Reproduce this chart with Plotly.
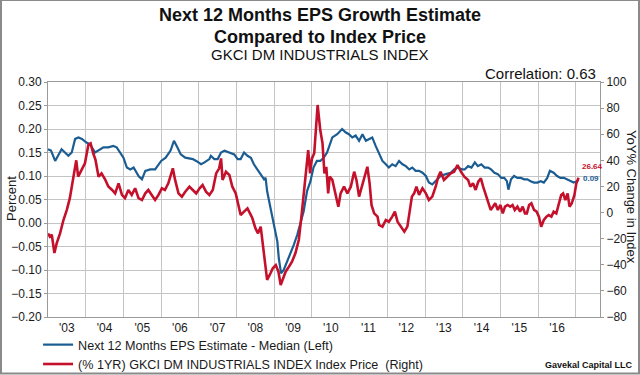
import pandas as pd
import plotly.graph_objects as go

# ---------------- data ----------------
eps_t = [2003.00, 2003.08, 2003.19, 2003.27, 2003.36, 2003.45, 2003.54, 2003.63, 2003.72, 2003.81,
         2003.90, 2004.02, 2004.11, 2004.25, 2004.34, 2004.47, 2004.60, 2004.73, 2004.82, 2004.91,
         2005.00, 2005.09, 2005.18, 2005.27, 2005.40, 2005.49, 2005.58, 2005.71, 2005.84, 2006.00,
         2006.12, 2006.25, 2006.34, 2006.43, 2006.52, 2006.64, 2006.77, 2006.84, 2006.93, 2007.06,
         2007.15, 2007.28, 2007.32, 2007.41, 2007.50, 2007.59, 2007.68, 2007.81, 2007.94, 2008.03,
         2008.11, 2008.20, 2008.29, 2008.38, 2008.46, 2008.55, 2008.64, 2008.73, 2008.77, 2008.81,
         2008.90, 2008.99, 2009.08, 2009.12, 2009.18, 2009.25, 2009.34, 2009.43, 2009.52, 2009.61,
         2009.69, 2009.78, 2009.87, 2009.96, 2010.04, 2010.13, 2010.22, 2010.31, 2010.40, 2010.47,
         2010.54, 2010.67, 2010.80, 2010.89, 2010.98, 2011.07, 2011.16, 2011.25, 2011.34, 2011.43,
         2011.51, 2011.60, 2011.69, 2011.78, 2011.87, 2011.96, 2012.04, 2012.13, 2012.22, 2012.31,
         2012.40, 2012.49, 2012.58, 2012.66, 2012.75, 2012.84, 2012.93, 2013.02, 2013.10, 2013.19,
         2013.28, 2013.41, 2013.55, 2013.68, 2013.77, 2013.86, 2013.99, 2014.05, 2014.14, 2014.23,
         2014.32, 2014.40, 2014.49, 2014.58, 2014.67, 2014.75, 2014.84, 2014.93, 2015.02, 2015.10,
         2015.17, 2015.21, 2015.28, 2015.36, 2015.45, 2015.54, 2015.63, 2015.71, 2015.80, 2015.89,
         2015.98, 2016.07, 2016.15, 2016.24, 2016.31, 2016.41, 2016.50, 2016.59, 2016.68, 2016.76,
         2016.85, 2016.94, 2017.03, 2017.07]
eps_v = [0.157, 0.154, 0.132, 0.143, 0.157, 0.150, 0.143, 0.150, 0.179, 0.182,
         0.179, 0.171, 0.168, 0.150, 0.154, 0.161, 0.161, 0.164, 0.161, 0.150,
         0.139, 0.118, 0.114, 0.118, 0.100, 0.093, 0.111, 0.114, 0.114, 0.132,
         0.139, 0.154, 0.175, 0.161, 0.146, 0.139, 0.136, 0.136, 0.132, 0.125,
         0.129, 0.136, 0.143, 0.136, 0.136, 0.150, 0.154, 0.150, 0.146, 0.136,
         0.136, 0.150, 0.143, 0.139, 0.125, 0.114, 0.104, 0.093, 0.096, 0.068,
         0.032, -0.004, -0.039, -0.075, -0.107, -0.100, -0.082, -0.068, -0.046, -0.025,
         -0.004, 0.025, 0.068, 0.089, 0.118, 0.132, 0.132, 0.139, 0.150, 0.164,
         0.182, 0.189, 0.200, 0.193, 0.189, 0.182, 0.186, 0.175, 0.189, 0.175,
         0.179, 0.182, 0.164, 0.146, 0.132, 0.125, 0.118, 0.125, 0.121, 0.132,
         0.125, 0.121, 0.114, 0.118, 0.111, 0.111, 0.107, 0.100, 0.086, 0.082,
         0.089, 0.100, 0.104, 0.107, 0.114, 0.118, 0.114, 0.114, 0.121, 0.118,
         0.129, 0.121, 0.125, 0.118, 0.118, 0.114, 0.107, 0.104, 0.096, 0.096,
         0.089, 0.071, 0.093, 0.100, 0.096, 0.096, 0.093, 0.093, 0.089, 0.086,
         0.086, 0.089, 0.086, 0.096, 0.111, 0.107, 0.100, 0.096, 0.096, 0.093,
         0.089, 0.086, 0.089, 0.092]

idx_t = [2003.00, 2003.05, 2003.10, 2003.17, 2003.23, 2003.32, 2003.41, 2003.50, 2003.58, 2003.67,
         2003.75, 2003.80, 2003.89, 2003.98, 2004.07, 2004.13, 2004.20, 2004.26, 2004.34, 2004.42,
         2004.52, 2004.60, 2004.70, 2004.78, 2004.87, 2004.96, 2005.04, 2005.13, 2005.22, 2005.31,
         2005.40, 2005.49, 2005.58, 2005.66, 2005.75, 2005.84, 2005.93, 2006.02, 2006.10, 2006.19,
         2006.31, 2006.37, 2006.46, 2006.55, 2006.64, 2006.75, 2006.84, 2006.93, 2007.02, 2007.10,
         2007.19, 2007.28, 2007.37, 2007.46, 2007.54, 2007.59, 2007.63, 2007.72, 2007.81, 2007.89,
         2007.98, 2008.07, 2008.11, 2008.20, 2008.29, 2008.38, 2008.42, 2008.50, 2008.57, 2008.64,
         2008.70, 2008.77, 2008.81, 2008.90, 2008.96, 2009.04, 2009.11, 2009.17, 2009.23, 2009.30,
         2009.39, 2009.47, 2009.56, 2009.65, 2009.72, 2009.78, 2009.84, 2009.90, 2009.95, 2010.00,
         2010.06, 2010.11, 2010.15, 2010.22, 2010.28, 2010.33, 2010.38, 2010.43, 2010.47, 2010.54,
         2010.63, 2010.70, 2010.76, 2010.85, 2010.94, 2011.03, 2011.12, 2011.18, 2011.25, 2011.34,
         2011.41, 2011.47, 2011.53, 2011.58, 2011.65, 2011.74, 2011.78, 2011.87, 2011.96, 2012.04,
         2012.13, 2012.20, 2012.27, 2012.36, 2012.45, 2012.53, 2012.59, 2012.65, 2012.71, 2012.77,
         2012.84, 2012.93, 2013.02, 2013.10, 2013.19, 2013.28, 2013.35, 2013.41, 2013.50, 2013.59,
         2013.68, 2013.77, 2013.86, 2013.95, 2014.04, 2014.14, 2014.20, 2014.27, 2014.34, 2014.41,
         2014.48, 2014.54, 2014.60, 2014.67, 2014.74, 2014.80, 2014.86, 2014.93, 2015.00, 2015.06,
         2015.12, 2015.19, 2015.26, 2015.32, 2015.38, 2015.45, 2015.52, 2015.59, 2015.65, 2015.70,
         2015.76, 2015.82, 2015.89, 2015.96, 2016.02, 2016.08, 2016.15, 2016.22, 2016.28, 2016.35,
         2016.41, 2016.48, 2016.54, 2016.61, 2016.66, 2016.72, 2016.78, 2016.83, 2016.89, 2016.96,
         2017.01, 2017.07]
idx_v = [-16.0, -18.5, -17.0, -31.0, -23.6, -16.0, -5.7, 2.0, 11.0, 25.0,
         40.0, 27.5, 32.6, 37.7, 51.7, 53.0, 45.4, 40.3, 27.5, 30.0,
         25.0, 20.0, 17.3, 14.7, 22.4, 13.5, 11.0, 17.3, 13.5, 18.6,
         11.0, 9.6, 14.7, 17.3, 13.5, 9.6, 13.5, 18.6, 17.3, 22.4,
         33.9, 25.0, 14.7, 12.2, 16.0, 19.8, 17.3, 14.7, 18.6, 21.1,
         16.0, 13.5, 17.3, 30.0, 33.9, 41.5, 25.0, 31.3, 28.8, 19.8,
         14.7, 2.0, -1.9, 0.7, 3.2, -1.9, -4.4, -12.0, -15.9, -10.8,
         -24.8, -41.4, -51.6, -46.5, -42.7, -40.2, -45.3, -55.5, -50.4, -45.3,
         -41.4, -37.6, -31.2, -21.0, -3.1, 14.7, 30.0, 47.9, 30.0, 41.5,
         45.4, 68.3, 82.4, 63.2, 53.0, 30.0, 35.1, 14.7, 27.5, 25.0,
         12.2, 4.5, 14.7, 19.8, 14.7, 19.8, 31.3, 25.0, 12.2, 22.4,
         30.0, 35.1, 22.4, 5.8, -0.6, -3.1, -9.5, -10.8, -5.7, -7.0,
         -3.1, 0.7, -7.0, -10.8, -14.6, -10.8, -0.6, 12.2, 14.7, 19.8,
         13.5, 18.6, 14.7, 9.6, 12.2, 19.8, 27.5, 31.3, 25.0, 27.5,
         30.0, 31.3, 36.4, 31.3, 27.5, 25.0, 19.8, 22.4, 17.3, 23.6,
         26.2, 19.8, 14.7, 8.3, 2.0, 4.5, 7.1, 2.0, 5.8, -0.6,
         4.5, 5.8, 4.5, 5.8, 2.0, 4.5, 0.7, 4.5, -0.6, -0.6,
         5.8, 7.1, 2.0, 0.7, -3.1, -10.8, -5.7, -3.1, -1.9, -3.1,
         0.7, -0.6, 7.1, 13.5, 14.7, 9.6, 14.7, 4.5, 7.1, 13.5,
         22.4, 26.64]

year_labels = ["'03", "'04", "'05", "'06", "'07", "'08", "'09", "'10",
               "'11", "'12", "'13", "'14", "'15", "'16"]
first_year = 2003
correlation = 0.63

EPS_NAME = "Next 12 Months EPS Estimate - Median (Left)"
IDX_NAME = "(% 1YR) GKCI DM INDUSTRIALS INDEX Index Price  (Right)"

BLUE = "#1b5d92"
RED = "#c5102c"
GRID = "#c4c4c4"


def to_dates(years):
    out = []
    for y in years:
        yr = int(y)
        start = pd.Timestamp(year=yr, month=1, day=1)
        end = pd.Timestamp(year=yr + 1, month=1, day=1)
        out.append(start + (end - start) * (y - yr))
    return out


eps_x = to_dates(eps_t)
idx_x = to_dates(idx_t)

label_pos = [pd.Timestamp(year=first_year + i, month=7, day=2) for i in range(len(year_labels))]
grid_pos = [pd.Timestamp(year=first_year + i + 1, month=1, day=1) for i in range(len(year_labels))]

fig = go.Figure()
fig.add_trace(go.Scatter(x=eps_x, y=eps_v, name=EPS_NAME, mode="lines",
                         line=dict(color=BLUE, width=2.2), yaxis="y"))
fig.add_trace(go.Scatter(x=idx_x, y=idx_v, name=IDX_NAME, mode="lines",
                         line=dict(color=RED, width=2.6), yaxis="y2"))

FONT = "Arial, 'Liberation Sans', sans-serif"
TICKFONT = dict(size=12, color="#1a1a1a")

fig.update_layout(
    width=640, height=375,
    margin=dict(l=48, r=40, t=82, b=58, autoexpand=False),
    paper_bgcolor="white", plot_bgcolor="white",
    font=dict(family=FONT, color="#1a1a1a", size=13),
    showlegend=True,
    legend=dict(x=-0.018, y=-0.055, xanchor="left", yanchor="top",
                bgcolor="rgba(0,0,0,0)", font=dict(size=12.6, color="#1a1a1a"),
                itemwidth=30, tracegroupgap=0, traceorder="normal"),
    xaxis=dict(
        type="date", automargin=False,
        range=[pd.Timestamp("2003-01-01"), pd.Timestamp("2017-08-22")],
        tickmode="array", tickvals=label_pos, ticktext=year_labels,
        showgrid=False, ticks="", tickfont=TICKFONT,
        showline=True, linecolor="#9a9a9a", linewidth=1, mirror=True,
        minor=dict(tickvals=grid_pos, showgrid=True, gridcolor=GRID, gridwidth=1.2, ticks=""),
        zeroline=False,
    ),
    yaxis=dict(
        automargin=False,
        range=[-0.20, 0.30], dtick=0.05, tick0=0, tickformat=".2f",
        showgrid=True, gridcolor=GRID, gridwidth=1.2, zeroline=False,
        ticks="outside", ticklen=3, tickcolor="#9a9a9a",
        tickfont=TICKFONT,
        showline=True, linecolor="#9a9a9a", linewidth=1, mirror=True,
    ),
    yaxis2=dict(
        automargin=False,
        range=[-80, 100], dtick=20, tick0=0, overlaying="y", side="right",
        showgrid=False, zeroline=False,
        ticks="outside", ticklen=3, tickcolor="#9a9a9a",
        tickfont=TICKFONT,
    ),
)

# pixel positions of texts, converted to paper coords below
PL, PR, PT, PB = 48, 600, 82, 317


def px(x):
    return (x - PL) / (PR - PL)


def py(y):
    return (PB - y) / (PB - PT)


annotations = [
    dict(text="<b>Next 12 Months EPS Growth Estimate</b>", x=px(320), y=py(15),
         font=dict(size=18, color="#111")),
    dict(text="<b>Compared to Index Price</b>", x=px(320), y=py(37),
         font=dict(size=18, color="#111")),
    dict(text="GKCI DM INDUSTRIALS INDEX", x=px(320), y=py(55),
         font=dict(size=15, color="#111")),
    dict(text=f"Correlation: {correlation:.2f}", x=px(598), y=py(73), xanchor="right",
         font=dict(size=15, color="#111")),
    dict(text="Percent", x=px(11), y=py(199), textangle=-90,
         font=dict(size=13, color="#1a1a1a")),
    dict(text="YoY% Change in Index", x=px(632), y=py(197), textangle=90,
         font=dict(size=13, color="#1a1a1a")),
    dict(text="<b>Gavekal Capital LLC</b>", x=px(635), y=py(365), xanchor="right",
         font=dict(size=9, color="#111")),
]
for a in annotations:
    a.setdefault("xanchor", "center")
    a.update(xref="paper", yref="paper", showarrow=False, yanchor="middle")

annotations.append(dict(text=f"<b>{idx_v[-1]:.2f}</b>", x=idx_x[-1], y=idx_v[-1], xref="x", yref="y2",
                        showarrow=False, xanchor="left", yanchor="middle", xshift=1, yshift=11,
                        font=dict(size=8, color=RED)))
annotations.append(dict(text=f"<b>{eps_v[-1]:.2f}</b>", x=eps_x[-1], y=eps_v[-1], xref="x", yref="y",
                        showarrow=False, xanchor="left", yanchor="middle", xshift=2, yshift=1,
                        font=dict(size=8, color=BLUE)))
fig.update_layout(annotations=annotations)

# outer gray frame
fig.add_shape(type="rect", xref="paper", yref="paper",
              x0=px(1), x1=px(639), y0=py(373.5), y1=py(0),
              line=dict(color="#8a8a8a", width=2), fillcolor="rgba(0,0,0,0)", layer="below")

fig.write_html("out.html", config={"displayModeBar": False},
               post_script="document.body.style.margin='0';")
